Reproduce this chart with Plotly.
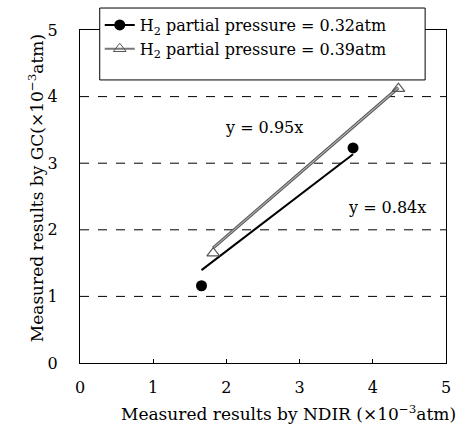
import plotly.graph_objects as go

# data
ndir_032 = [1.66, 3.73]
gc_032 = [1.16, 3.23]
ndir_039 = [1.82, 4.35]
gc_039 = [1.65, 4.12]
slope_032 = 0.84
slope_039 = 0.95
name_032 = "H<sub>2</sub> partial pressure = 0.32atm"
name_039 = "H<sub>2</sub> partial pressure = 0.39atm"
x_title = "Measured results by NDIR (×10<sup>−3</sup>atm)"
y_title = "Measured results by GC(×10<sup>−3</sup>atm)"
ticks = [0, 1, 2, 3, 4, 5]

FONT = "DejaVu Serif"
fig = go.Figure()

# gridlines dashed
for g in [1, 2, 3, 4]:
    fig.add_shape(type="line", xref="x", yref="y", x0=0, x1=5, y0=g, y1=g,
                  line=dict(color="black", width=1, dash="dash"), layer="below")

# trend lines
tx39 = [min(ndir_039), max(ndir_039)]
fig.add_trace(go.Scatter(x=tx39, y=[slope_039 * v for v in tx39], mode="lines",
                         line=dict(color="#555555", width=3.2), showlegend=False, hoverinfo="skip"))
fig.add_trace(go.Scatter(x=tx39, y=[slope_039 * v for v in tx39], mode="lines",
                         line=dict(color="#b0b0b0", width=1.2), showlegend=False, hoverinfo="skip"))
tx32 = [min(ndir_032), max(ndir_032)]
fig.add_trace(go.Scatter(x=tx32, y=[slope_032 * v for v in tx32], mode="lines",
                         line=dict(color="black", width=2), showlegend=False, hoverinfo="skip"))

# data points
fig.add_trace(go.Scatter(x=ndir_032, y=gc_032, mode="markers",
                         marker=dict(symbol="circle", size=11, color="black"), showlegend=False))
fig.add_trace(go.Scatter(x=ndir_039, y=gc_039, mode="markers",
                         marker=dict(symbol="triangle-up-open", size=11, color="#555555", line=dict(width=1.2)),
                         showlegend=False))

# legend entries
fig.add_trace(go.Scatter(x=[None], y=[None], mode="lines+markers", name=name_032,
                         line=dict(color="black", width=2),
                         marker=dict(symbol="circle", size=11, color="black")))
fig.add_trace(go.Scatter(x=[None], y=[None], mode="lines+markers", name=name_039,
                         line=dict(color="#777777", width=2),
                         marker=dict(symbol="triangle-up-open", size=11, color="#555555")))

# legend frame box
fig.add_shape(type="rect", xref="paper", yref="paper", x0=0.0539, x1=0.943, y0=0.850, y1=1.066,
              line=dict(color="black", width=1), fillcolor="white", layer="above")

fig.add_annotation(x=2.52, y=3.53, text="y = 0.95x", showarrow=False,
                   font=dict(family=FONT, size=16, color="black"))
fig.add_annotation(x=4.2, y=2.33, text="y = 0.84x", showarrow=False,
                   font=dict(family=FONT, size=16, color="black"))

# axis titles
fig.add_annotation(xref="paper", yref="paper", x=0.569, y=-0.15, text=x_title,
                   showarrow=False, xanchor="center", yanchor="middle",
                   font=dict(family=FONT, size=17, color="black"))
fig.add_annotation(xref="paper", yref="paper", x=-0.121, y=0.524, text=y_title,
                   showarrow=False, xanchor="center", yanchor="middle", textangle=-90,
                   font=dict(family=FONT, size=17, color="black"))

fig.update_layout(
    width=459, height=432,
    margin=dict(l=80, r=8, t=29, b=69),
    paper_bgcolor="white", plot_bgcolor="white",
    font=dict(family=FONT, size=16, color="black"),
    showlegend=True,
    legend=dict(x=0.054, y=1.066, xanchor="left", yanchor="top",
                bgcolor="rgba(0,0,0,0)", borderwidth=0,
                font=dict(family=FONT, size=16), tracegroupgap=0,
                itemwidth=30),
    xaxis=dict(range=[0, 5], tickvals=ticks, showgrid=False, zeroline=False,
               showline=True, linecolor="black", linewidth=1, mirror=True,
               ticks="inside", ticklen=4, tickcolor="black",
               ticklabelstandoff=10),
    yaxis=dict(range=[0, 5], tickvals=ticks, showgrid=False, zeroline=False,
               showline=True, linecolor="black", linewidth=1, mirror=True,
               ticks="", ticklabelstandoff=18),
)

fig.write_html("out.html")
